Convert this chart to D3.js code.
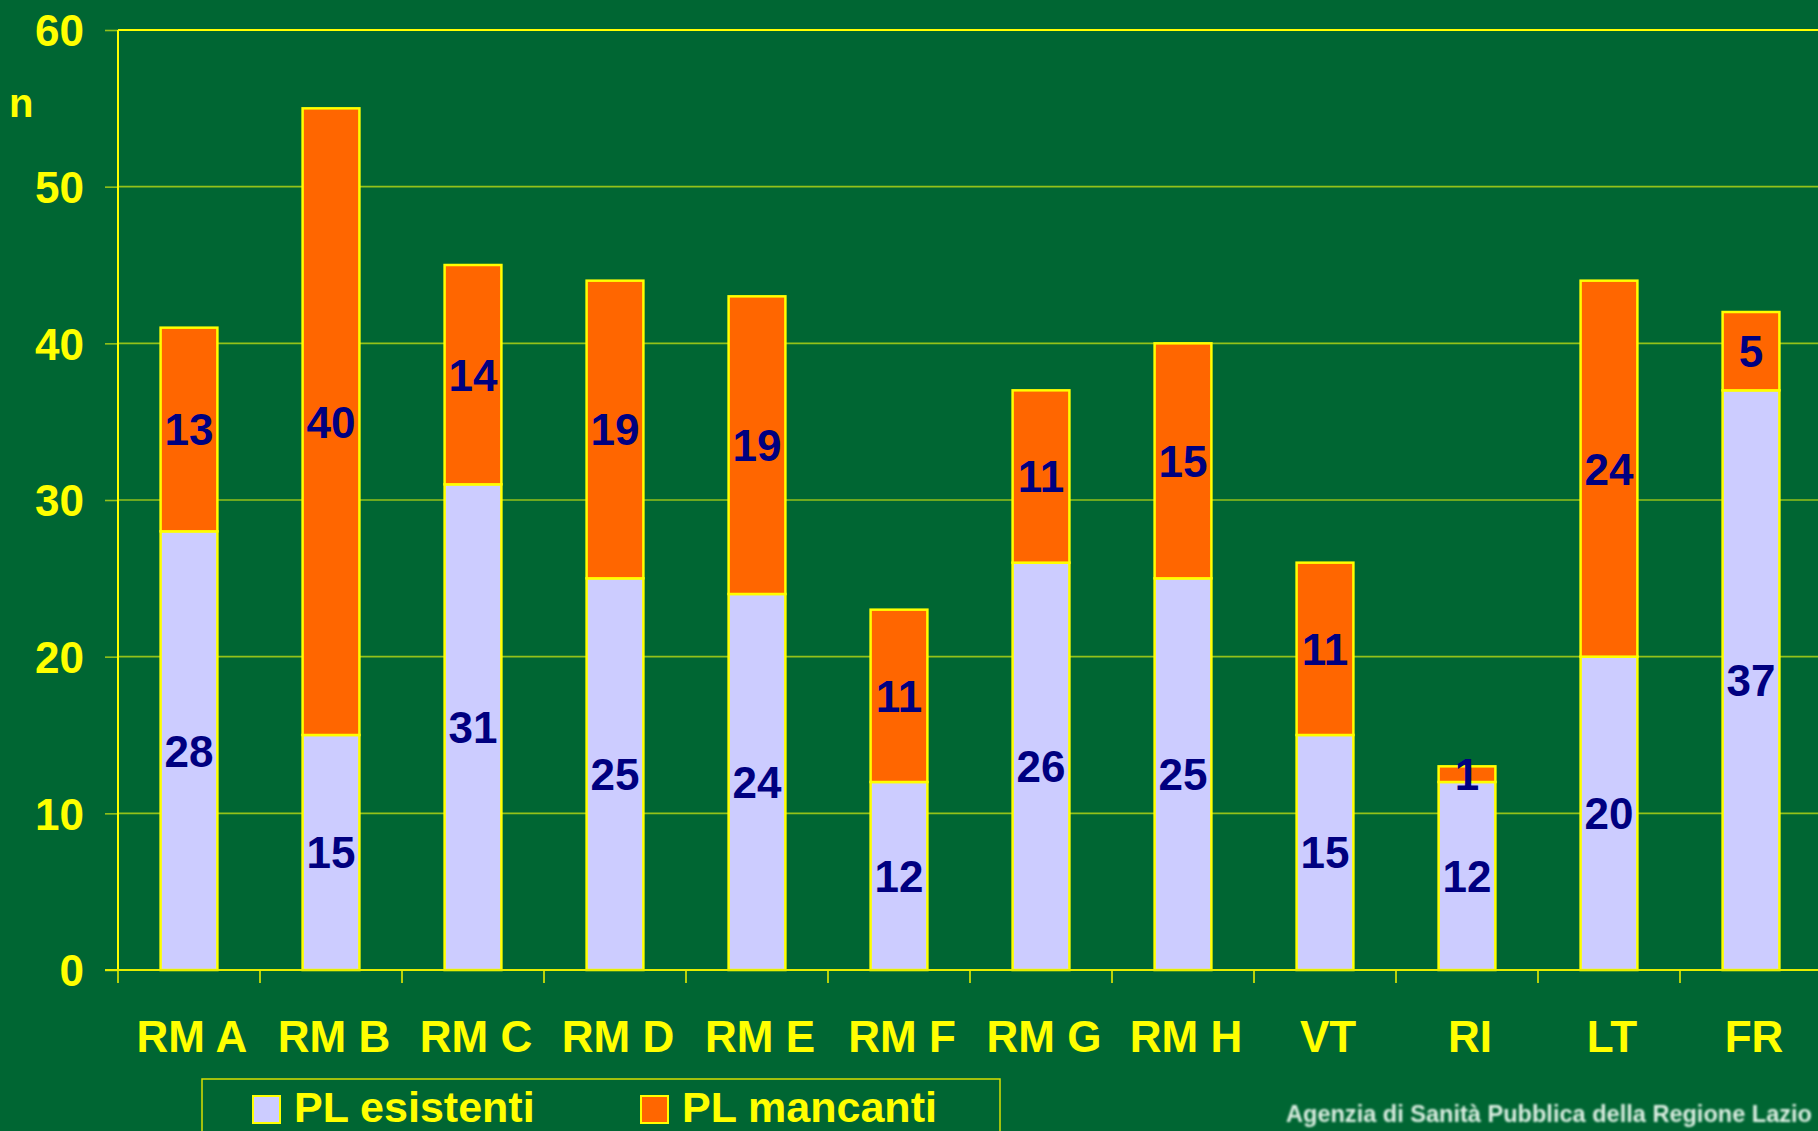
<!DOCTYPE html>
<html>
<head>
<meta charset="utf-8">
<script src="https://cdn.jsdelivr.net/npm/d3@7"></script>
<style>
  html, body { margin: 0; padding: 0; background: #006633; }
  svg { display: block; }
  text { font-family: "Liberation Sans", Arial, sans-serif; font-weight: bold; }
</style>
</head>
<body>
<svg id="chart" width="1818" height="1131"></svg>
<script>
// Posti letto per ASL: esistenti e mancanti
const categories = ["RM A", "RM B", "RM C", "RM D", "RM E", "RM F", "RM G", "RM H", "VT", "RI", "LT", "FR"];
const esistenti  = [28, 15, 31, 25, 24, 12, 26, 25, 15, 12, 20, 37];
const mancanti   = [13, 40, 14, 19, 19, 11, 11, 15, 11, 1, 24, 5];
const seriesKeys = ["esistenti", "mancanti"];
const seriesNames = ["PL esistenti", "PL mancanti"];
const yTicks = [0, 10, 20, 30, 40, 50, 60];

const colors = { esistenti: "#CCCCFF", mancanti: "#FF6600" };
const yellow = "#FFFF00";
const gridColor = "#93C21A";

const svg = d3.select("#chart");
const W = 1818, H = 1131;
const plotLeft = 118, plotTop = 30, plotBottom = 970, plotRight = 1822;

svg.append("rect").attr("width", W).attr("height", H).attr("fill", "#006633");

const rows = categories.map((c, i) => ({ cat: c, esistenti: esistenti[i], mancanti: mancanti[i] }));
const stacked = d3.stack().keys(seriesKeys)(rows);

const x = d3.scaleBand().domain(categories).range([plotLeft, plotRight])
  .paddingInner(0.6).paddingOuter(0.3);
const y = d3.scaleLinear().domain([0, 60]).range([plotBottom, plotTop]);

// horizontal gridlines
svg.append("g").selectAll("line").data(yTicks.filter(t => t > 0 && t < 60)).join("line")
  .attr("x1", plotLeft).attr("x2", W)
  .attr("y1", d => y(d)).attr("y2", d => y(d))
  .attr("stroke", gridColor).attr("stroke-width", 1.6);

// y axis ticks and labels
const yAxis = svg.append("g").attr("transform", `translate(${plotLeft},0)`)
  .call(d3.axisLeft(y).tickValues(yTicks).tickSize(13).tickPadding(21).tickFormat(d3.format("d")));
yAxis.select(".domain").remove();
yAxis.selectAll(".tick line").attr("stroke", gridColor).attr("stroke-width", 1.6);
yAxis.selectAll(".tick text").attr("fill", yellow).attr("font-size", 44)
  .attr("font-family", "Liberation Sans, Arial, sans-serif").attr("font-weight", "bold")
  .attr("dy", "0.36em");

// plot border: top and left
svg.append("line").attr("x1", plotLeft).attr("x2", W).attr("y1", plotTop).attr("y2", plotTop)
  .attr("stroke", yellow).attr("stroke-width", 2);
svg.append("line").attr("x1", plotLeft).attr("x2", plotLeft).attr("y1", plotTop).attr("y2", plotBottom)
  .attr("stroke", yellow).attr("stroke-width", 2);

// y axis unit
svg.append("text").attr("x", 9).attr("y", 117).attr("fill", yellow).attr("font-size", 40).text("n");

// stacked bars
const layers = svg.append("g").selectAll("g").data(stacked).join("g")
  .attr("fill", d => colors[d.key]);
layers.selectAll("rect").data(d => d).join("rect")
  .attr("x", d => x(d.data.cat))
  .attr("width", x.bandwidth())
  .attr("y", d => y(d[1]))
  .attr("height", d => y(d[0]) - y(d[1]))
  .attr("stroke", yellow).attr("stroke-width", 2.5);

// segment value labels
layers.selectAll("text").data(d => d.map(v => ({ v, key: d.key }))).join("text")
  .attr("x", d => x(d.v.data.cat) + x.bandwidth() / 2)
  .attr("y", d => y((d.v[0] + d.v[1]) / 2))
  .attr("dy", "0.36em")
  .attr("text-anchor", "middle")
  .attr("fill", "#000080").attr("font-size", 44)
  .text(d => d.v.data[d.key]);

// x axis
const xAxis = svg.append("g").attr("transform", `translate(0,${plotBottom})`);
xAxis.append("line").attr("x1", plotLeft - 13).attr("x2", W).attr("y1", 0).attr("y2", 0)
  .attr("stroke", "#E6EE00").attr("stroke-width", 2);
const boundaries = d3.range(categories.length).map(i => plotLeft + i * x.step());
xAxis.selectAll("line.tick").data(boundaries).join("line").attr("class", "tick")
  .attr("x1", d => d).attr("x2", d => d).attr("y1", 0).attr("y2", 13)
  .attr("stroke", "#E6EE00").attr("stroke-width", 1.6);
xAxis.selectAll("text").data(categories).join("text")
  .attr("x", d => x(d) + x.bandwidth() / 2 + 3)
  .attr("y", 82)
  .attr("text-anchor", "middle")
  .attr("fill", yellow).attr("font-size", 44)
  .text(d => d);

// legend
const legend = svg.append("g");
legend.append("rect").attr("x", 202).attr("y", 1079).attr("width", 798).attr("height", 80)
  .attr("fill", "none").attr("stroke", "#D8E000").attr("stroke-width", 1.5);
const legendX = [253, 641];
const items = legend.selectAll("g").data(seriesKeys).join("g")
  .attr("transform", (d, i) => `translate(${legendX[i]},0)`);
items.append("rect").attr("x", 0).attr("y", 1096).attr("width", 27).attr("height", 27)
  .attr("fill", d => colors[d]).attr("stroke", yellow).attr("stroke-width", 2);
items.append("text").attr("x", 41).attr("y", 1122).attr("fill", yellow).attr("font-size", 43)
  .text((d, i) => seriesNames[i]);

// source credit
const defs = svg.append("defs");
defs.append("filter").attr("id", "soft").append("feGaussianBlur").attr("stdDeviation", 0.8);
svg.append("text").attr("x", 1286).attr("y", 1122)
  .attr("fill", "#DCEFE2").attr("font-size", 23)
  .attr("textLength", 526).attr("lengthAdjust", "spacingAndGlyphs")
  .attr("filter", "url(#soft)")
  .text("Agenzia di Sanità Pubblica della Regione Lazio");
</script>
</body>
</html>
